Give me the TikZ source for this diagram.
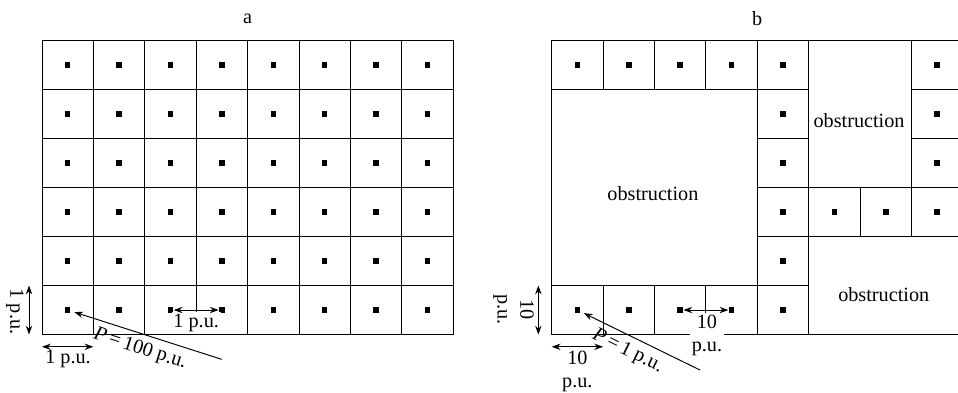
\documentclass[tikz,border=0pt]{standalone}
\usepackage{fontspec}
\setmainfont{Liberation Serif}
\usetikzlibrary{arrows.meta}

\begin{document}
\begin{tikzpicture}[x=1.028cm,y=0.98cm,line width=0.55pt,
    >={Stealth[length=5pt,width=3.6pt]},
    every node/.style={font=\fontsize{11.5}{13}\selectfont},
    ctr/.style={fill,inner sep=0pt,minimum size=0.11cm},
    lab/.style={align=center,inner sep=1pt}]
\clip (-0.817,-1.173) rectangle (17.821,6.827);
% Panel a: full grid
    \node (a-title) at (4,6.45) {a};
    \foreach \i in {0,...,7}
        \foreach \j in {0,...,5}
        {
            \draw (\i,\j) rectangle +(1,1);
            \node[ctr] (a-\i-\j) at (\i+0.5,\j+0.5) {};
        }
% Panel a: labels
    \coordinate (a-v0) at (-0.253,0);
    \coordinate (a-v1) at (-0.253,1);
    \draw[<->] (a-v0) -- (a-v1);
    \node[rotate=-90] (a-vlab) at (-0.525,0.47) {1 p.u.};
    \coordinate (a-h0) at (0,-0.25);
    \coordinate (a-h1) at (1,-0.25);
    \draw[<->] (a-h0) -- (a-h1);
    \node (a-hlab) at (0.506,-0.5) {1 p.u.};
    \node[lab,fill=white] (a-dlab) at (3,0.235) {1 p.u.};
    \draw[<->] (a-2-0) -- (a-3-0);
    \coordinate (a-p) at (3.496,-0.506);
    \draw[<-,shorten <=2pt] (a-0-0) -- node[sloped,below,pos=0.49] {\textit{P}\,=\,100 p.u.} (a-p);
% Panel b: cells around the obstructions
\begin{scope}[shift={(9.916,0)}]
    \node (b-title) at (4,6.45) {b};
    \draw (0,0) rectangle (8,6);
    \foreach \i/\j in {0/5,1/5,2/5,3/5,4/5,7/5,4/4,7/4,4/3,7/3,4/2,5/2,6/2,7/2,4/1,0/0,1/0,2/0,3/0,4/0}
    {
        \draw (\i,\j) rectangle +(1,1);
        \node[ctr] (b-\i-\j) at (\i+0.5,\j+0.5) {};
    }
    \node (b-obs1) at (1.97,2.88) {obstruction};
    \node (b-obs2) at (5.98,4.36) {obstruction};
    \node (b-obs3) at (6.46,0.82) {obstruction};
% Panel b: labels
    \coordinate (b-v0) at (-0.26,0);
    \coordinate (b-v1) at (-0.26,1);
    \draw[<->] (b-v0) -- (b-v1);
    \node[lab,rotate=-90] (b-vlab) at (-0.743,0.51) {10\\p.u.};
    \coordinate (b-h0) at (0,-0.25);
    \coordinate (b-h1) at (1,-0.25);
    \draw[<->] (b-h0) -- (b-h1);
    \node[lab] (b-hlab) at (0.5,-0.745) {10\\p.u.};
    \node[lab,fill=white] (b-dlab) at (3.02,-0.01) {10\\p.u.};
    \draw[<->] (b-2-0) -- (b-3-0);
    \coordinate (b-p) at (2.885,-0.724);
    \draw[<-,shorten <=2pt] (b-0-0) -- node[sloped,below,pos=0.45] {\textit{P}\,=\,1 p.u.} (b-p);
\end{scope}
\end{tikzpicture}
\end{document}
